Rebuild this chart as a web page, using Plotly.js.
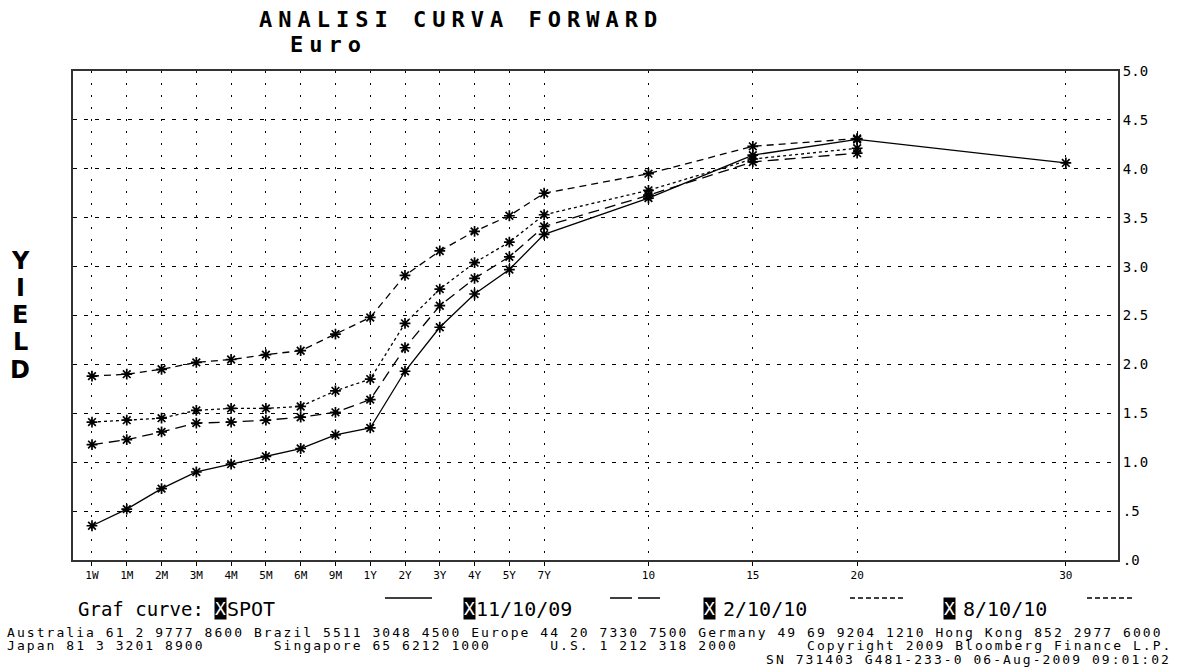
<!DOCTYPE html>
<html>
<head>
<meta charset="utf-8">
<script src="https://cdn.plot.ly/plotly-3.0.1.min.js"></script>
<style>
  html, body { margin: 0; padding: 0; background: #fff; }
  #chart { width: 1178px; height: 668px; }
</style>
</head>
<body>
<div id="chart"></div>
<script>
// ---- data ----
const tenors = ['1W','1M','2M','3M','4M','5M','6M','9M','1Y','2Y','3Y','4Y','5Y','7Y','10','15','20','30'];
const tenorPos = [0,1,2,3,4,5,6,7,8,9,10,11,12,13,16,19,22,28];
const spot     = [0.35,0.52,0.73,0.90,0.98,1.06,1.14,1.28,1.35,1.93,2.38,2.72,2.97,3.33,3.70,4.14,4.30,4.06];
const fwd_111009 = [1.18,1.23,1.31,1.40,1.41,1.43,1.46,1.51,1.64,2.17,2.60,2.88,3.10,3.41,3.73,4.07,4.16];
const fwd_21010  = [1.41,1.43,1.45,1.53,1.55,1.55,1.57,1.73,1.85,2.42,2.77,3.04,3.25,3.53,3.78,4.10,4.21];
const fwd_81010  = [1.88,1.90,1.95,2.02,2.05,2.10,2.14,2.31,2.48,2.91,3.16,3.36,3.52,3.75,3.95,4.23,4.31];
const yTickVals  = [0,0.5,1,1.5,2,2.5,3,3.5,4,4.5,5];
const yTickText  = ['.0','.5','1.0','1.5','2.0','2.5','3.0','3.5','4.0','4.5','5.0'];
const seriesNames = ['SPOT','11/10/09','2/10/10','8/10/10'];
const titleText = 'ANALISI CURVA FORWARD';
const subtitleText = 'Euro';
const yTitle = 'YIELD';
const footer1 = 'Australia 61 2 9777 8600 Brazil 5511 3048 4500 Europe 44 20 7330 7500 Germany 49 69 9204 1210 Hong Kong 852 2977 6000';
const footer2 = 'Japan 81 3 3201 8900       Singapore 65 6212 1000      U.S. 1 212 318 2000       Copyright 2009 Bloomberg Finance L.P.';
const footer3 = 'SN 731403 G481-233-0 06-Aug-2009 09:01:02';

// ---- geometry helpers (pixel -> paper) ----
const L = 73, R = 1118, T = 71, B = 560;
const px = x => (x - L) / (R - L);
const py = y => (B - y) / (B - T);
const nb = s => s.replace(/ /g, '\u00A0');

const mono = 'DejaVu Sans Mono, Liberation Mono, monospace';
const dashes = ['solid', '11px,6px', '3px,3px', '7px,5px'];
const values = [spot, fwd_111009, fwd_21010, fwd_81010];

const traces = values.map((v, i) => ({
  type: 'scatter',
  mode: 'lines+markers',
  name: seriesNames[i],
  x: tenorPos.slice(0, v.length),
  y: v,
  line: { color: '#000', width: 1.3, dash: dashes[i] },
  marker: { symbol: 'asterisk-open', size: 9, color: '#000', line: { color: '#000', width: 1.7 } },
  hoverinfo: 'skip'
}));

const ann = [];
const shapes = [];
function txt(text, x, y, size, opts) {
  ann.push(Object.assign({
    text: text, x: px(x), y: py(y), xref: 'paper', yref: 'paper',
    xanchor: 'left', yanchor: 'middle', align: 'left', showarrow: false,
    font: { family: mono, size: size, color: '#000' }
  }, opts || {}));
}
// titles
txt(titleText, 257, 20, 22, { font: { family: mono, size: 22, color: '#000', weight: 'bold' } });
txt(subtitleText, 288, 45, 22, { font: { family: mono, size: 22, color: '#000', weight: 'bold' } });
// y title (stacked letters)
const letterY = [261, 288, 315, 342, 370];
yTitle.split('').forEach((ch, i) => {
  ann.push({ text: ch, x: px(20), y: py(letterY[i]), xref: 'paper', yref: 'paper',
    xanchor: 'center', yanchor: 'middle', align: 'center', showarrow: false,
    font: { family: 'DejaVu Sans, sans-serif', size: 24, color: '#000', weight: 'bold' } });
});

// legend row
txt('Graf curve:', 76, 609, 19);
const legendItems = [
  { box: 214, label: 225, s0: 385, s1: 432 },
  { box: 463, label: 474, s0: 610, s1: 660 },
  { box: 703, label: 721, s0: 850, s1: 905 },
  { box: 943, label: 961, s0: 1087, s1: 1135 }
];
const sampleDash = ['solid', '22px,6px', '5px,3px', '5px,3px'];
legendItems.forEach((it, i) => {
  ann.push({ text: 'X', x: px(it.box), y: py(608), xref: 'paper', yref: 'paper', xanchor: 'left', yanchor: 'middle',
    showarrow: false, bgcolor: '#000', borderpad: 0, font: { family: mono, size: 18, color: '#fff' } });
  txt(seriesNames[i], it.label, 609, 20);
  shapes.push({ type: 'line', xref: 'paper', yref: 'paper', x0: px(it.s0), x1: px(it.s1), y0: py(598), y1: py(598),
    line: { color: '#000', width: 1.5, dash: sampleDash[i] } });
});

// footer
txt(nb(footer1), 5, 632, 13);
txt(nb(footer2), 5, 645, 13);
txt(nb(footer3), 764, 659, 13);

const layout = {
  width: 1178, height: 668,
  margin: { l: L, r: 1178 - R, t: T, b: 668 - B, pad: 0 },
  paper_bgcolor: '#fff', plot_bgcolor: '#fff',
  showlegend: false,
  font: { family: mono, color: '#000' },
  xaxis: {
    range: [-0.546, 29.5], tickmode: 'array', tickvals: tenorPos, ticktext: tenors,
    tickfont: { family: mono, size: 11, color: '#000' },
    showgrid: true, gridcolor: '#000', gridwidth: 1, griddash: '2px,10px',
    showline: true, linecolor: '#333', linewidth: 2, mirror: true,
    ticks: 'outside', ticklen: 4, tickcolor: '#000', zeroline: false, fixedrange: true
  },
  yaxis: {
    side: 'right', range: [0, 5], tickmode: 'array', tickvals: yTickVals, ticktext: yTickText,
    tickfont: { family: mono, size: 14, color: '#000' },
    showgrid: true, gridcolor: '#000', gridwidth: 1, griddash: '4px,7px',
    showline: true, linecolor: '#333', linewidth: 2, mirror: true,
    ticks: '', zeroline: false, fixedrange: true
  },
  annotations: ann,
  shapes: shapes
};

Plotly.newPlot('chart', traces, layout, { displayModeBar: false, staticPlot: true }).then(() => {
  const spacing = {};
  spacing[nb(footer1)] = '2.05px';
  spacing[nb(footer2)] = '2.05px';
  spacing[nb(footer3)] = '2.05px';
  spacing[titleText] = '6px';
  spacing[subtitleText] = '6px';
  document.querySelectorAll('.annotation-text').forEach(el => {
    const s = spacing[el.textContent];
    if (s) el.style.letterSpacing = s;
  });
});
</script>
</body>
</html>
